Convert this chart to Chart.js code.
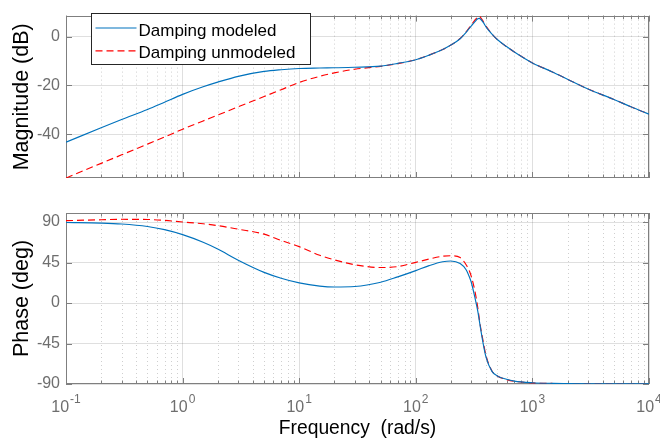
<!DOCTYPE html>
<html><head><meta charset="utf-8">
<script src="https://cdn.jsdelivr.net/npm/chart.js@4.4.1/dist/chart.umd.min.js"></script>
<style>
html,body{margin:0;padding:0;background:#fff;overflow:hidden}
#wrap{position:relative;width:660px;height:443px;background:#fff}
canvas{position:absolute;left:0;display:block}
</style></head><body>
<div id="wrap">
<canvas id="mag" width="660" height="196" style="top:0"></canvas>
<canvas id="phase" width="660" height="247" style="top:196px"></canvas>
</div>
<script>
// ---- data ----
const freq = [0.1,0.2,0.3,0.5,0.7,1,1.5,2,3,5,7,10,15,20,30,50,70,100,130,170,200,240,270,290,300,320,340,350,360,380,400,450,500,600,700,1000,1500,2000,3000,5000,7000,10000];
const magModeled = [-43.3,-37.4,-34.0,-29.9,-26.9,-23.7,-20.6,-18.7,-16.3,-14.3,-13.6,-13.1,-12.9,-12.8,-12.6,-12.1,-11.0,-9.5,-7.6,-5.3,-3.5,-0.9,1.7,3.6,4.4,6.0,7.3,7.45,7.1,5.7,4.0,1.0,-1.2,-4.1,-6.3,-10.8,-14.6,-17.5,-21.5,-25.8,-28.8,-31.8];
const magUnmodeled = [-58.0,-52.0,-48.5,-44.1,-41.2,-38.0,-34.6,-32.2,-28.8,-24.6,-21.8,-18.8,-16.3,-14.9,-13.4,-12.2,-11.1,-9.5,-7.6,-5.3,-3.5,-0.8,1.9,3.9,4.8,6.6,8.1,8.35,7.8,6.1,4.3,1.1,-1.2,-4.1,-6.3,-10.8,-14.6,-17.5,-21.5,-25.8,-28.8,-31.8];
const phaseModeled = [89.5,88.8,87.8,85.0,81.5,76.0,67.5,60.0,47.5,34.0,27.5,22.3,18.8,17.8,18.3,23.0,29.0,36.0,41.5,45.8,46.7,43.8,37.0,28.0,22.5,7.0,-9.0,-19.0,-29.0,-46.5,-60.0,-76.0,-81.0,-84.8,-86.8,-88.6,-89.3,-89.5,-89.7,-89.8,-89.9,-89.9];
const phaseUnmodeled = [91.5,92.5,93.0,92.8,91.8,90.0,88.0,86.0,82.0,76.5,69.5,62.6,53.0,48.0,42.5,39.4,40.5,45.2,48.8,52.0,52.5,50.5,42.5,34.8,29.0,14.4,-5.0,-17.0,-27.5,-44.0,-58.5,-75.5,-81.0,-85.0,-87.0,-88.8,-89.4,-89.6,-89.8,-89.9,-90.0,-90.0];
const seriesLabels = ['Damping modeled','Damping unmodeled'];
const xDecades = [0.1,1,10,100,1000,10000];
const xTickBase = '10';
const xTickExponents = ['-1','0','1','2','3','4'];
const magTicks = [-40,-20,0];
const phaseTicks = [-90,-45,0,45,90];
const minorMult = [2,3,4,5,6,7,8,9];

const FONT = "'Liberation Sans', Arial, Helvetica, sans-serif";
const BLUE = '#0072BD', RED = '#FF0000';
const TICKCOL = '#6e6e6e', BOXCOL = '#7f7f7f';
const GRIDCOL = 'rgba(38,38,38,0.15)';

const xMinor = [];
xDecades.slice(0, -1).forEach(d => minorMult.forEach(m => xMinor.push(+(d * m).toPrecision(3))));

const matlabAxes = {
  id: 'matlabAxes',
  beforeDatasetsDraw(chart, args, opts) {
    const {ctx, chartArea: a, scales: {x, y}} = chart;
    ctx.save();
    ctx.strokeStyle = 'rgba(38,38,38,0.22)';
    ctx.lineWidth = 1;
    ctx.setLineDash([1, 3]);
    xMinor.forEach(v => {
      const px = Math.round(x.getPixelForValue(v)) + 0.5;
      ctx.beginPath(); ctx.moveTo(px, a.top); ctx.lineTo(px, a.bottom); ctx.stroke();
    });
    ctx.setLineDash([]);
    ctx.strokeStyle = BOXCOL;
    ctx.beginPath();
    const vt = (v, len) => {
      const px = Math.round(x.getPixelForValue(v)) + 0.5;
      ctx.moveTo(px, a.bottom); ctx.lineTo(px, a.bottom - len);
      ctx.moveTo(px, a.top); ctx.lineTo(px, a.top + len);
    };
    xDecades.forEach(v => vt(v, 6));
    xMinor.forEach(v => vt(v, 3.5));
    (opts.yTicks || []).forEach(v => {
      const py = Math.round(y.getPixelForValue(v)) + 0.5;
      ctx.moveTo(a.left, py); ctx.lineTo(a.left + 6, py);
      ctx.moveTo(a.right, py); ctx.lineTo(a.right - 6, py);
    });
    ctx.stroke();
    ctx.strokeRect(Math.round(a.left) + 0.5, Math.round(a.top) + 0.5, Math.round(a.width) - 1, Math.round(a.height) - 1);
    ctx.restore();
  },
  afterDraw(chart, args, opts) {
    const {ctx, chartArea: a, scales: {x}} = chart;
    if (!opts.xLabels) return;
    ctx.save();
    const baseY = a.bottom + 28;
    ctx.fillStyle = TICKCOL;
    ctx.textBaseline = 'alphabetic';
    ctx.textAlign = 'left';
    xDecades.forEach((v, i) => {
      const px = x.getPixelForValue(v);
      ctx.font = '16px ' + FONT;
      const wb = ctx.measureText(xTickBase).width;
      ctx.font = '12px ' + FONT;
      const we = ctx.measureText(xTickExponents[i]).width;
      const start = px - (wb + we + 1) / 2;
      ctx.font = '16px ' + FONT;
      ctx.fillText(xTickBase, start, baseY);
      ctx.font = '12px ' + FONT;
      ctx.fillText(xTickExponents[i], start + wb + 1, baseY - 9.5);
    });
    ctx.restore();
  }
};

const legendBox = {
  id: 'legendBox',
  afterDraw(chart) {
    const ctx = chart.ctx;
    const L = 91.5, T = 13.5, W = 219, H = 51;
    ctx.save();
    ctx.fillStyle = '#fff'; ctx.fillRect(L, T, W, H);
    ctx.strokeStyle = '#262626'; ctx.lineWidth = 1; ctx.strokeRect(L, T, W, H);
    chart.data.datasets.forEach((ds, i) => {
      const yy = T + 14.5 + i * 22.8;
      ctx.strokeStyle = ds.borderColor; ctx.lineWidth = ds.borderWidth;
      ctx.setLineDash(ds.borderDash || []);
      ctx.beginPath(); ctx.moveTo(L + 4, yy); ctx.lineTo(L + 45, yy); ctx.stroke();
      ctx.setLineDash([]);
      ctx.fillStyle = '#000'; ctx.font = '17px ' + FONT; ctx.textBaseline = 'alphabetic'; ctx.textAlign = 'left';
      ctx.fillText(ds.label, L + 47, yy + 7.5);
    });
    ctx.restore();
  }
};

function datasets(a, b) {
  return [
    {label: seriesLabels[0], data: freq.map((f, i) => ({x: f, y: a[i]})), borderColor: BLUE, borderWidth: 1.15, borderDash: [], cubicInterpolationMode: 'monotone', pointRadius: 0, fill: false},
    {label: seriesLabels[1], data: freq.map((f, i) => ({x: f, y: b[i]})), borderColor: RED, borderWidth: 1.15, borderDash: [7, 4], cubicInterpolationMode: 'monotone', pointRadius: 0, fill: false}
  ];
}

function xScale(showTitle, height) {
  return {
    type: 'logarithmic', min: 0.1, max: 10000, bounds: 'data',
    afterBuildTicks: s => { s.ticks = xDecades.map(v => ({value: v, major: true})); s.min = 0.1; s.max = 10000; },
    afterFit: s => { s.height = height; },
    grid: {color: GRIDCOL, drawTicks: false, lineWidth: 1},
    border: {display: false},
    ticks: {display: false, autoSkip: false, maxRotation: 0, minRotation: 0},
    title: showTitle ? {display: true, text: 'Frequency  (rad/s)', color: '#000', font: {family: FONT, size: 19.3}, padding: {top: 0, bottom: 3}} : {display: false}
  };
}

function yScale(min, max, ticks, title) {
  return {
    type: 'linear', min: min, max: max,
    afterBuildTicks: s => { s.ticks = ticks.map(v => ({value: v})); },
    afterFit: s => { s.width = 66; },
    grid: {color: GRIDCOL, drawTicks: false, lineWidth: 1},
    border: {display: false},
    ticks: {color: TICKCOL, font: {family: FONT, size: 16}, padding: 6},
    title: {display: true, text: title, color: '#000', font: {family: FONT, size: 21.5}, padding: {top: 9, bottom: 0}}
  };
}

new Chart(document.getElementById('mag'), {
  type: 'line',
  data: {datasets: datasets(magModeled, magUnmodeled)},
  options: {
    responsive: false, animation: false,
    layout: {padding: {left: 0, right: 11, top: 8, bottom: 0}},
    plugins: {legend: {display: false}, tooltip: {enabled: false}, matlabAxes: {yTicks: magTicks, xLabels: false}},
    scales: {x: xScale(false, 18), y: yScale(-58, 8.6, magTicks, 'Magnitude (dB)')}
  },
  plugins: [matlabAxes, legendBox]
});

new Chart(document.getElementById('phase'), {
  type: 'line',
  data: {datasets: datasets(phaseModeled, phaseUnmodeled)},
  options: {
    responsive: false, animation: false,
    layout: {padding: {left: 0, right: 11, top: 17, bottom: 0}},
    plugins: {legend: {display: false}, tooltip: {enabled: false}, matlabAxes: {yTicks: phaseTicks, xLabels: true}},
    scales: {x: xScale(true, 59), y: yScale(-90, 100, phaseTicks, 'Phase (deg)')}
  },
  plugins: [matlabAxes]
});
</script>
</body></html>
